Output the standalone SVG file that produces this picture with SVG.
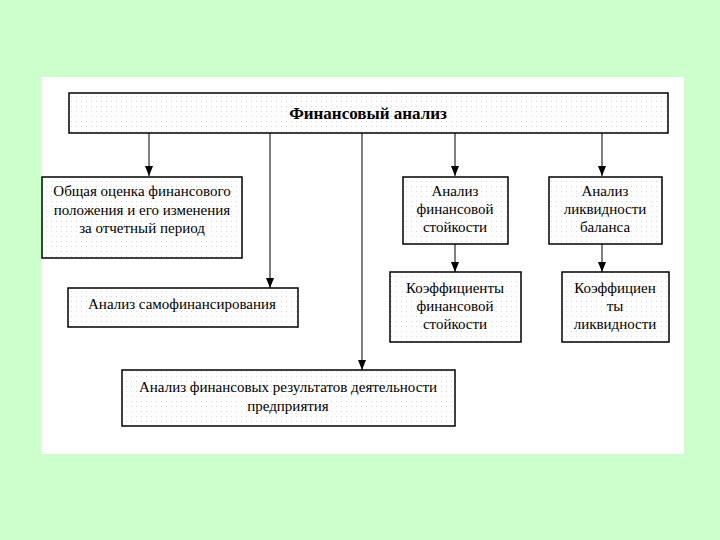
<svg xmlns="http://www.w3.org/2000/svg" width="720" height="540" viewBox="0 0 720 540">
<defs>
<pattern id="dots" width="5" height="5" patternUnits="userSpaceOnUse">
<rect width="5" height="5" fill="#ffffff"/>
<rect x="1" y="1" width="1" height="1" fill="#d8d8d8"/>
</pattern>
<marker id="arr" viewBox="0 0 10 8" refX="10" refY="4" markerWidth="10" markerHeight="8" markerUnits="userSpaceOnUse" orient="auto">
<path d="M0,0 L10,4 L0,8 Z" fill="#000"/>
</marker>
</defs>
<style>
.box{fill:url(#dots);stroke:#000;stroke-width:1.5}
.t{font-family:"Liberation Serif","Times New Roman",serif;font-size:15px;fill:#000;text-anchor:middle}
.tb{font-family:"Liberation Serif","Times New Roman",serif;font-size:17px;font-weight:bold;fill:#000;text-anchor:middle}
.c{stroke:#000;stroke-width:1;fill:none}
</style>
<rect width="720" height="540" fill="#ccffcc"/>
<rect x="41" y="77" width="643" height="377" fill="#ffffff"/>
<g id="connectors">
<line class="c" x1="149" y1="133" x2="149" y2="176" marker-end="url(#arr)"/>
<line class="c" x1="270" y1="133" x2="270" y2="288" marker-end="url(#arr)"/>
<line class="c" x1="362" y1="133" x2="362" y2="370" marker-end="url(#arr)"/>
<line class="c" x1="455" y1="133" x2="455" y2="176" marker-end="url(#arr)"/>
<line class="c" x1="602" y1="133" x2="602" y2="176" marker-end="url(#arr)"/>
<line class="c" x1="455" y1="244" x2="455" y2="272" marker-end="url(#arr)"/>
<line class="c" x1="602" y1="244" x2="602" y2="272" marker-end="url(#arr)"/>
</g>
<g id="root">
<rect class="box" x="69" y="93" width="599" height="40"/>
<text class="tb" x="368" y="119">Финансовый анализ</text>
</g>
<g id="overall">
<rect class="box" x="42" y="177" width="200" height="81"/>
<text class="t" x="142" y="196">Общая оценка финансового</text>
<text class="t" x="142" y="215">положения и его изменения</text>
<text class="t" x="142" y="233">за отчетный период</text>
</g>
<g id="stability">
<rect class="box" x="403" y="177" width="105" height="67"/>
<text class="t" x="455" y="196">Анализ</text>
<text class="t" x="455" y="214">финансовой</text>
<text class="t" x="455" y="232">стойкости</text>
</g>
<g id="liquidity">
<rect class="box" x="549" y="177" width="113" height="67"/>
<text class="t" x="605" y="196">Анализ</text>
<text class="t" x="605" y="214">ликвидности</text>
<text class="t" x="605" y="232">баланса</text>
</g>
<g id="stability-coef">
<rect class="box" x="390" y="272" width="131" height="70"/>
<text class="t" x="455" y="293">Коэффициенты</text>
<text class="t" x="455" y="311">финансовой</text>
<text class="t" x="455" y="329">стойкости</text>
</g>
<g id="liquidity-coef">
<rect class="box" x="562" y="272" width="107" height="70"/>
<text class="t" x="615" y="293">Коэффициен</text>
<text class="t" x="615" y="311">ты</text>
<text class="t" x="615" y="329">ликвидности</text>
</g>
<g id="selffinancing">
<rect class="box" x="68" y="288" width="230" height="39"/>
<text class="t" x="182" y="309">Анализ самофинансирования</text>
</g>
<g id="results">
<rect class="box" x="122" y="370" width="333" height="56"/>
<text class="t" x="288" y="392">Анализ финансовых результатов деятельности</text>
<text class="t" x="288" y="411">предприятия</text>
</g>
</svg>
